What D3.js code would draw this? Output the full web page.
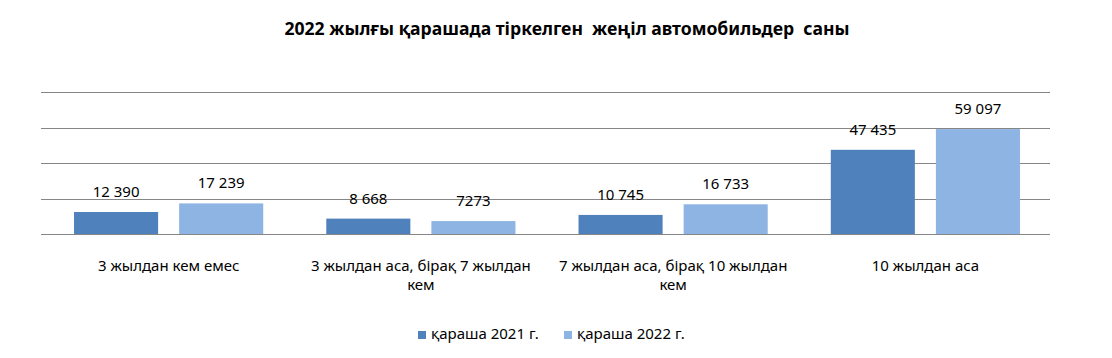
<!DOCTYPE html>
<html><head><meta charset="utf-8">
<script src="https://cdn.jsdelivr.net/npm/d3@7"></script>
<style>body{margin:0;background:#fff}svg{display:block}text{font-family:"Noto Sans",sans-serif;fill:#000}</style>
</head><body>
<script>
const categories = ["3 жылдан кем емес", "3 жылдан аса, бірақ 7 жылдан\nкем", "7 жылдан аса, бірақ 10 жылдан\nкем", "10 жылдан аса"];
const seriesNames = ["қараша 2021 г.", "қараша 2022 г."];
const values2021 = [12390, 8668, 10745, 47435];
const values2022 = [17239, 7273, 16733, 59097];
const labels2021 = ["12 390", "8 668", "10 745", "47 435"];
const labels2022 = ["17 239", "7273", "16 733", "59 097"];
const yTicks = [0, 20000, 40000, 60000, 80000];
const colors = ["#4F81BD", "#8EB4E3"];
const title = "2022 жылғы қарашада тіркелген  жеңіл автомобильдер  саны";

const W = 1112, H = 358;
const svg = d3.select("body").append("svg").attr("width", W).attr("height", H);
const m = {left: 41, right: 62, top: 92, bottom: 124};
const x0 = d3.scaleBand().domain(categories).range([m.left + 1.5, W - m.right + 1.5]).paddingInner(0.25).paddingOuter(0.125);
const x1 = d3.scaleBand().domain([0, 1]).range([0, x0.bandwidth()]).paddingInner(0.2);
const y = d3.scaleLinear().domain([0, 80000]).range([H - m.bottom, m.top]);

svg.append("text").attr("x", 567).attr("y", 35).attr("text-anchor", "middle")
  .style("font-weight", "bold").style("font-size", "17.6px").style("white-space", "pre").text(title);

svg.append("g").selectAll("line").data(yTicks).join("line")
  .attr("x1", m.left).attr("x2", W - m.right)
  .attr("y1", d => Math.round(y(d)) + 0.5).attr("y2", d => Math.round(y(d)) + 0.5)
  .attr("stroke", "#868686").attr("stroke-width", 1);

const series = [values2021, values2022];
const labels = [labels2021, labels2022];
series.forEach((vals, si) => {
  const g = svg.append("g");
  g.selectAll("rect").data(vals).join("rect")
    .attr("x", (d, i) => x0(categories[i]) + x1(si))
    .attr("width", x1.bandwidth())
    .attr("y", d => y(d)).attr("height", d => y(0) - y(d))
    .attr("fill", colors[si]);
  g.selectAll("text").data(vals).join("text")
    .attr("x", (d, i) => x0(categories[i]) + x1(si) + x1.bandwidth() / 2)
    .attr("y", d => y(d) - 15).attr("text-anchor", "middle")
    .style("font-size", "15px").text((d, i) => labels[si][i]);
});

const cg = svg.append("g");
categories.forEach(c => {
  const lines = c.split("\n");
  const t = cg.append("text").attr("text-anchor", "middle").style("font-size", "15px");
  lines.forEach((ln, li) => {
    t.append("tspan").attr("x", x0(c) + x0.bandwidth() / 2).attr("y", 271 + li * 19).text(ln);
  });
});

const leg = svg.append("g");
const legX = [418, 564];
seriesNames.forEach((n, i) => {
  leg.append("rect").attr("x", legX[i]).attr("y", 331).attr("width", 8).attr("height", 8).attr("fill", colors[i]);
  leg.append("text").attr("x", legX[i] + 13).attr("y", 339).style("font-size", "15px").text(n);
});
</script>
</body></html>
